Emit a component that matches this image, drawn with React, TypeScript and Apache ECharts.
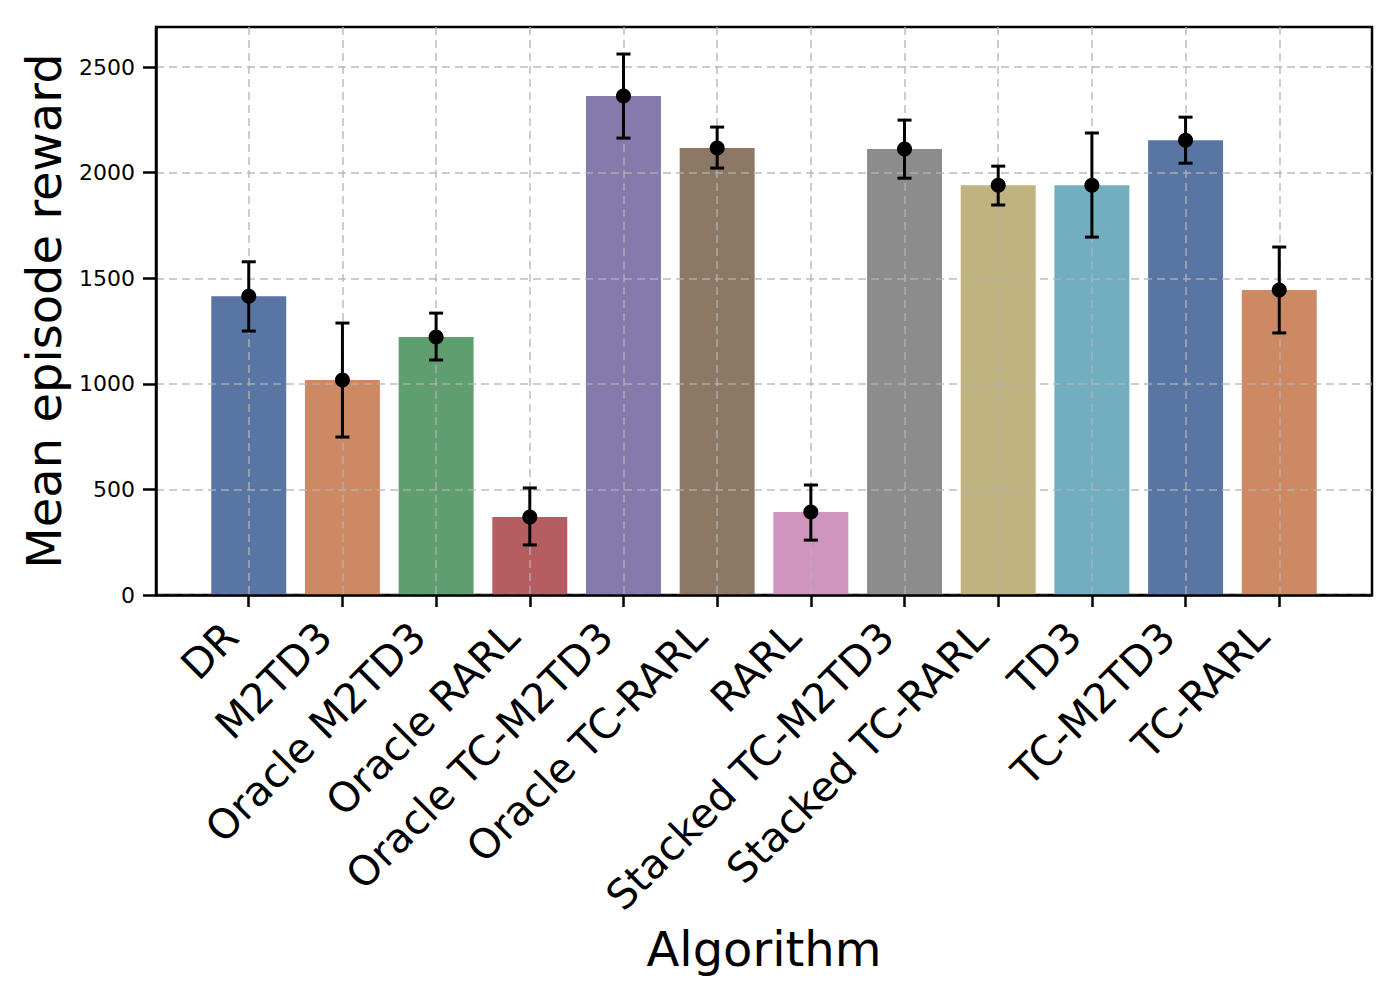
import React, { useEffect, useRef } from "react";
import * as echarts from "echarts";

const categories = [
  "DR",
  "M2TD3",
  "Oracle M2TD3",
  "Oracle RARL",
  "Oracle TC-M2TD3",
  "Oracle TC-RARL",
  "RARL",
  "Stacked TC-M2TD3",
  "Stacked TC-RARL",
  "TD3",
  "TC-M2TD3",
  "TC-RARL",
];
const means = [1415, 1018, 1222, 369, 2363, 2117, 393, 2112, 1941, 1941, 2154, 1444];
const lower = [1250, 748, 1113, 237, 2164, 2022, 260, 1974, 1847, 1695, 2045, 1241];
const upper = [1578, 1288, 1335, 507, 2562, 2216, 521, 2249, 2031, 2188, 2263, 1648];
const colors = [
  "#5975a4",
  "#cc8963",
  "#5f9e6e",
  "#b55d60",
  "#857aab",
  "#8d7866",
  "#d095bf",
  "#8c8c8c",
  "#c1b37f",
  "#71aec0",
  "#5975a4",
  "#cc8963",
];
const yTicks = [0, 500, 1000, 1500, 2000, 2500];

const FONT = "DejaVu Sans";

export default function App() {
  const ref = useRef<HTMLDivElement>(null);
  useEffect(() => {
    if (!ref.current) return;
    const chart = echarts.init(ref.current, null, { renderer: "svg" });
    const idx = categories.map((_, i) => i);
    const gridLine = {
      show: true,
      lineStyle: { color: "rgba(178,178,178,0.65)", type: [8, 5], width: 2 },
    };
    chart.setOption({
      animation: false,
      backgroundColor: "#fff",
      grid: {
        left: 156,
        right: 28,
        top: 27,
        bottom: 405,
        show: true,
        borderColor: "#000",
        borderWidth: 2.5,
        backgroundColor: "transparent",
      },
      xAxis: {
        type: "value",
        min: -0.99,
        max: 11.99,
        z: 3,
        name: "Algorithm",
        nameLocation: "middle",
        nameGap: 324,
        nameTextStyle: { fontFamily: FONT, fontSize: 48, color: "#000" },
        axisLine: { show: true, onZero: false, lineStyle: { color: "#000", width: 2.5 } },
        axisTick: {
          show: true,
          customValues: idx,
          length: 12,
          lineStyle: { color: "#000", width: 2.5 },
        },
        axisLabel: {
          customValues: idx,
          rotate: 45,
          margin: 17,
          padding: [0, 25, 0, 0],
          fontFamily: FONT,
          fontSize: 41,
          color: "#000",
          formatter: (v: number) => categories[Math.round(v)] ?? "",
        },
        splitLine: gridLine,
      },
      yAxis: {
        type: "value",
        min: 0,
        max: 2690,
        z: 3,
        name: "Mean episode reward",
        nameLocation: "middle",
        nameGap: 86,
        nameTextStyle: { fontFamily: FONT, fontSize: 48, color: "#000" },
        axisLine: { show: true, onZero: false, lineStyle: { color: "#000", width: 2.5 } },
        axisTick: {
          show: true,
          customValues: yTicks,
          length: 13,
          lineStyle: { color: "#000", width: 2.5 },
        },
        axisLabel: {
          customValues: yTicks,
          margin: 21,
          fontFamily: FONT,
          fontSize: 22,
          color: "#000",
          formatter: (v: number) => String(v),
        },
        splitLine: gridLine,
      },
      series: [
        {
          type: "custom",
          z: 1,
          clip: false,
          data: means.map((m, i) => [i, m]),
          renderItem: (params: any, api: any) => {
            const i = api.value(0);
            const v = api.value(1);
            const p1 = api.coord([i - 0.4, v]);
            const p2 = api.coord([i + 0.4, 0]);
            return {
              type: "rect",
              shape: { x: p1[0], y: p1[1], width: p2[0] - p1[0], height: p2[1] - p1[1] },
              style: { fill: colors[i] },
            };
          },
        },
        {
          type: "custom",
          z: 5,
          clip: false,
          data: means.map((m, i) => [i, m, lower[i], upper[i]]),
          renderItem: (params: any, api: any) => {
            const i = api.value(0);
            const c = api.coord([i, api.value(1)]);
            const lo = api.coord([i, api.value(2)]);
            const hi = api.coord([i, api.value(3)]);
            const cap = 7;
            const ls = { stroke: "#000", lineWidth: 3 };
            return {
              type: "group",
              children: [
                { type: "line", shape: { x1: c[0], y1: lo[1], x2: c[0], y2: hi[1] }, style: ls },
                { type: "line", shape: { x1: c[0] - cap, y1: lo[1], x2: c[0] + cap, y2: lo[1] }, style: ls },
                { type: "line", shape: { x1: c[0] - cap, y1: hi[1], x2: c[0] + cap, y2: hi[1] }, style: ls },
                { type: "circle", shape: { cx: c[0], cy: c[1], r: 7.5 }, style: { fill: "#000" } },
              ],
            };
          },
        },
      ],
    });
    return () => chart.dispose();
  }, []);
  return (
    <div
      ref={ref}
      style={{ position: "fixed", left: 0, top: 0, width: 1400, height: 1000 }}
    />
  );
}
